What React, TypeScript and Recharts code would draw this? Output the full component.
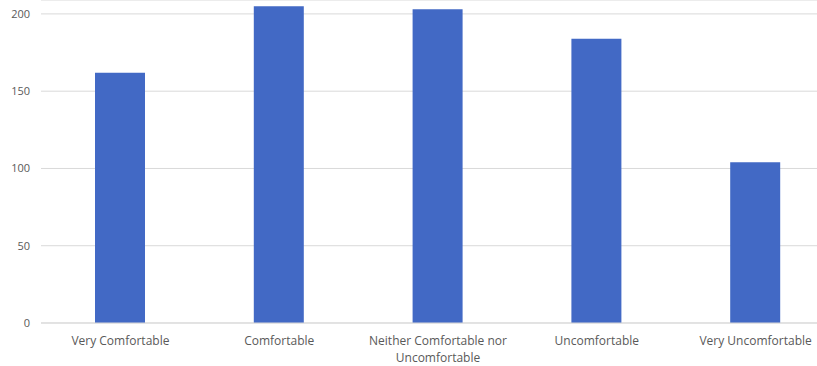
import React from "react";
import { BarChart, Bar, XAxis, YAxis, CartesianGrid, Text } from "recharts";

const categories = [
  "Very Comfortable",
  "Comfortable",
  "Neither Comfortable nor Uncomfortable",
  "Uncomfortable",
  "Very Uncomfortable",
];
const responses = [162, 205, 203, 184, 104];
const yTicks = [0, 50, 100, 150, 200];

const data = categories.map((name, i) => ({ name, count: responses[i] }));

const FONT = "'Open Sans', 'Liberation Sans', sans-serif";

// category labels wrap onto a second line when wider than the band
function CategoryTick(props: any) {
  const { x, y, payload } = props;
  return (
    <Text
      x={x}
      y={y + 5}
      width={165}
      textAnchor="middle"
      verticalAnchor="start"
      fontSize={12}
      fontFamily={FONT}
      fill="#595959"
      lineHeight={17}
    >
      {payload.value}
    </Text>
  );
}

export default function App() {
  return (
    <div style={{ position: "fixed", left: 0, top: 0, width: 817, height: 366, overflow: "hidden", background: "#fff" }}>
      <BarChart width={835} height={366} data={data} margin={{ top: 0, right: 0, bottom: 0, left: 0 }}>
        <CartesianGrid vertical={false} stroke="#d9d9d9" />
        <XAxis
          dataKey="name"
          height={43}
          interval={0}
          tickLine={false}
          axisLine={{ stroke: "#d9d9d9" }}
          tick={<CategoryTick />}
        />
        <YAxis
          width={41}
          domain={[0, 209]}
          ticks={yTicks}
          tickLine={false}
          axisLine={false}
          tickMargin={5}
          tick={{ fontSize: 11, fontFamily: FONT, fill: "#595959" }}
        />
        <Bar dataKey="count" fill="#4269c5" barSize={50} isAnimationActive={false} />
      </BarChart>
    </div>
  );
}
